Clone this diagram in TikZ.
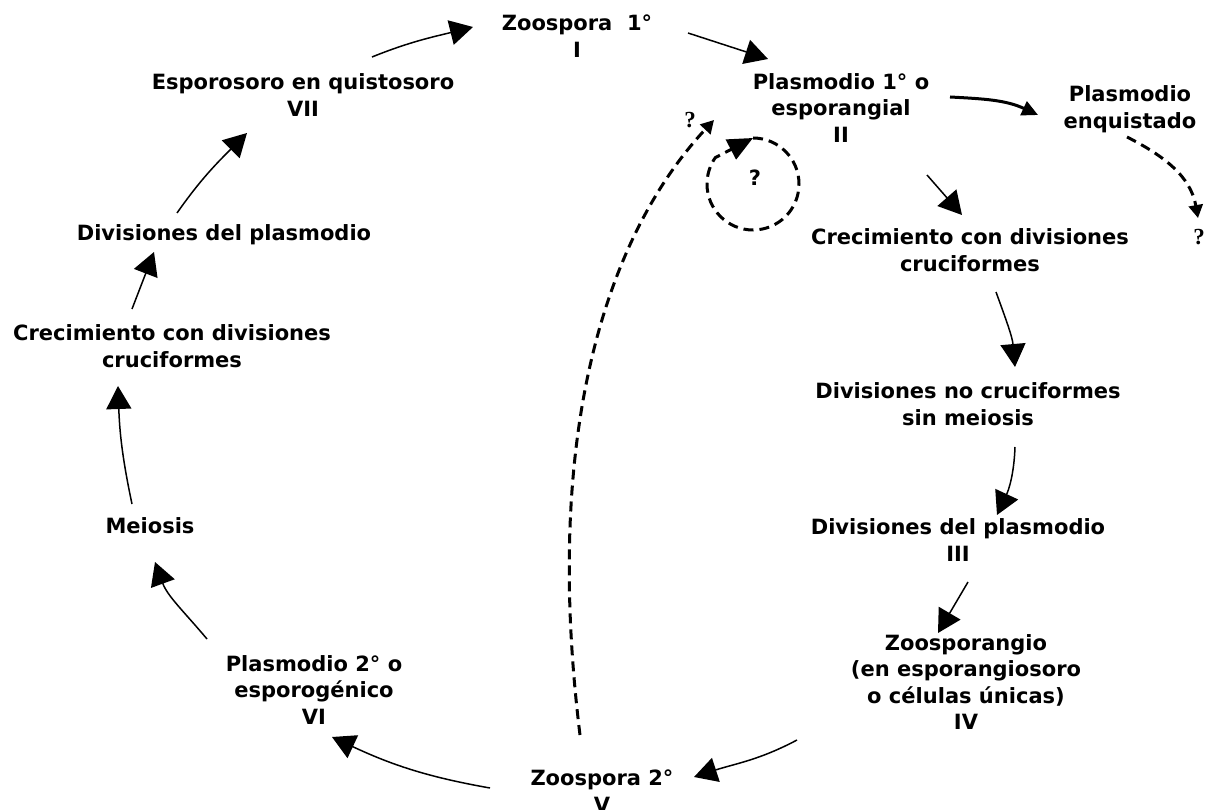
\documentclass[tikz,border=0pt]{standalone}
\usepackage{fontspec}
\setmainfont{DejaVu Sans}
\newfontfamily\serifq{Liberation Serif}
\usetikzlibrary{arrows.meta}

\begin{document}
\begin{tikzpicture}[x=1pt,y=-1pt]
\tikzstyle{etapa}=[font=\bfseries\fontsize{21}{26.5}\selectfont, align=center, inner sep=0pt]
\tikzstyle{duda}=[font=\serifq\bfseries\fontsize{23}{23}\selectfont, inner sep=0pt]
\tikzstyle{flecha}=[line width=1.5pt, -{Triangle[length=23pt,width=25pt]}]
\tikzstyle{gruesa}=[line width=3pt, -{Triangle[length=16pt,width=15pt]}]
\tikzstyle{punteada}=[line width=3pt, dash pattern=on 10pt off 6pt, -{Triangle[length=13pt,width=14pt]}]
\useasboundingbox (0,0) rectangle (1211,810);

\node[etapa] (zoosporaI) at (577,36) {Zoospora~~1°\\I};
\node[etapa] (plasmodioII) at (841,108) {Plasmodio 1° o\\esporangial\\II};
\node[etapa] (enquistado) at (1130,109) {Plasmodio\\enquistado};
\node[etapa] (crecimientoII) at (970,250) {Crecimiento con divisiones\\cruciformes};
\node[etapa] (divisionesII) at (968,404) {Divisiones no cruciformes\\sin meiosis};
\node[etapa] (plasmodioIII) at (958,540) {Divisiones del plasmodio\\III};
\node[etapa] (zoosporangioIV) at (966,682) {Zoosporangio\\(en esporangiosoro\\o células únicas)\\IV};
\node[etapa] (zoosporaV) at (602,791) {Zoospora 2°\\V};
\node[etapa] (plasmodioVI) at (314,690) {Plasmodio 2° o\\esporogénico\\VI};
\node[etapa] (meiosis) at (150,526) {Meiosis};
\node[etapa] (crecimientoVI) at (172,346) {Crecimiento con divisiones\\cruciformes};
\node[etapa] (divisionesVI) at (224,235) {Divisiones del plasmodio};
\node[etapa] (esporosoroVII) at (303,95) {Esporosoro en quistosoro\\VII};
\node[duda] (quistes) at (1199,237) {?};
\node[duda] (retorno) at (690,120) {?};
\node[etapa] (ciclo) at (755,178) {?};

\draw[flecha] ([shift={(69,-38)}]esporosoroVII.center) to[out=22,in=194] ([shift={(-104,-9)}]zoosporaI.center);
\draw[flecha] ([shift={(111,-3)}]zoosporaI.center) -- ([shift={(-73,-49)}]plasmodioII.center);
\draw[gruesa] ([shift={(109,-11)}]plasmodioII.center) to[out=-3,in=155] ([shift={(-92,6)}]enquistado.center);
\draw[punteada] ([shift={(-3,28)}]enquistado.center) to[out=-27,in=100] ([shift={(-1,-19)}]quistes.center);
\draw[flecha] ([shift={(86,67)}]plasmodioII.center) -- ([shift={(-8,-35)}]crecimientoII.center);
\draw[flecha] ([shift={(26,42)}]crecimientoII.center) to[out=-70,in=95] ([shift={(47,-37)}]divisionesII.center);
\draw[flecha] ([shift={(47,43)}]divisionesII.center) to[out=-92,in=65] ([shift={(39,-25)}]plasmodioIII.center);
\draw[flecha] ([shift={(10,42)}]plasmodioIII.center) -- ([shift={(-28,-49)}]zoosporangioIV.center);
\draw[flecha] ([shift={(-169,58)}]zoosporangioIV.center) to[out=208,in=18] ([shift={(92,-14)}]zoosporaV.center);
\draw[flecha] ([shift={(-112,-3)}]zoosporaV.center) to[out=170,in=-25] ([shift={(18,47)}]plasmodioVI.center);
\draw[flecha] ([shift={(-107,-51)}]plasmodioVI.center) to[out=130,in=-70] ([shift={(5,36)}]meiosis.center);
\draw[flecha] ([shift={(-18,-22)}]meiosis.center) to[out=102,in=-88] ([shift={(-54,40)}]crecimientoVI.center);
\draw[flecha] ([shift={(-40,-37)}]crecimientoVI.center) -- ([shift={(-70,17)}]divisionesVI.center);
\draw[flecha] ([shift={(-47,-22)}]divisionesVI.center) to[out=55,in=225] ([shift={(-56,38)}]esporosoroVII.center);
\draw[punteada] ([shift={(-22,-56)}]zoosporaV.center) to[out=97,in=227,out looseness=1.3,in looseness=0.6] ([shift={(24,0)}]retorno.center);
\draw[punteada, -{Triangle[length=25pt,width=22pt]}] ([shift={(-2,-40)}]ciclo.center) arc[start angle=90,end angle=-215,radius=46pt] -- ([shift={(-2,-40)}]ciclo.center);
\end{tikzpicture}
\end{document}
